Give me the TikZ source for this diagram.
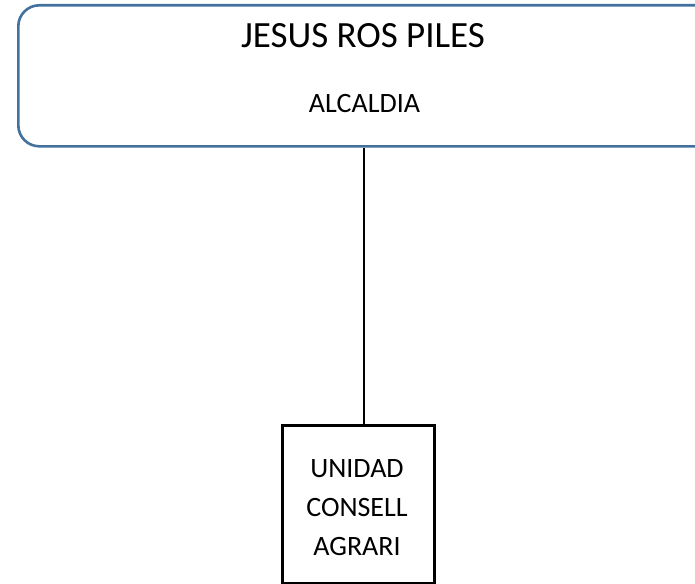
\documentclass[tikz,border=0pt]{standalone}
\usepackage{fontspec}
\setmainfont{Carlito}
\definecolor{boxblue}{RGB}{65,113,156}
\begin{document}
\begin{tikzpicture}[x=1pt,y=-1pt,
  topbox/.style={draw=boxblue,line width=2.6pt,rounded corners=21pt,minimum width=720pt,minimum height=141pt,anchor=north west,inner sep=0pt},
  unitbox/.style={draw=black,line width=2.6pt,minimum width=152pt,minimum height=158pt,anchor=north west,inner sep=0pt},
  lbl/.style={anchor=base,inner sep=0pt,font=\fontsize{28}{34}\selectfont}]
\useasboundingbox (0,0) rectangle (695,583);
\clip (0,0) rectangle (695,583);
\node[topbox] (top) at (17,4) {};
\node[anchor=base,inner sep=0pt,font=\fontsize{37}{44}\selectfont] (title) at (363,48) {JESUS ROS PILES};
\node[lbl] (sub) at (364.5,113) {ALCALDIA};
\node[unitbox] (unit) at (281,424) {};
\node[lbl,align=center,font=\fontsize{28}{38.6}\selectfont] (unittext) at (357,555) {UNIDAD\\CONSELL\\AGRARI};
\coordinate (j) at (364,424);
\draw[line width=2.6pt] (j |- top.south) -- (j);
\end{tikzpicture}
\end{document}
